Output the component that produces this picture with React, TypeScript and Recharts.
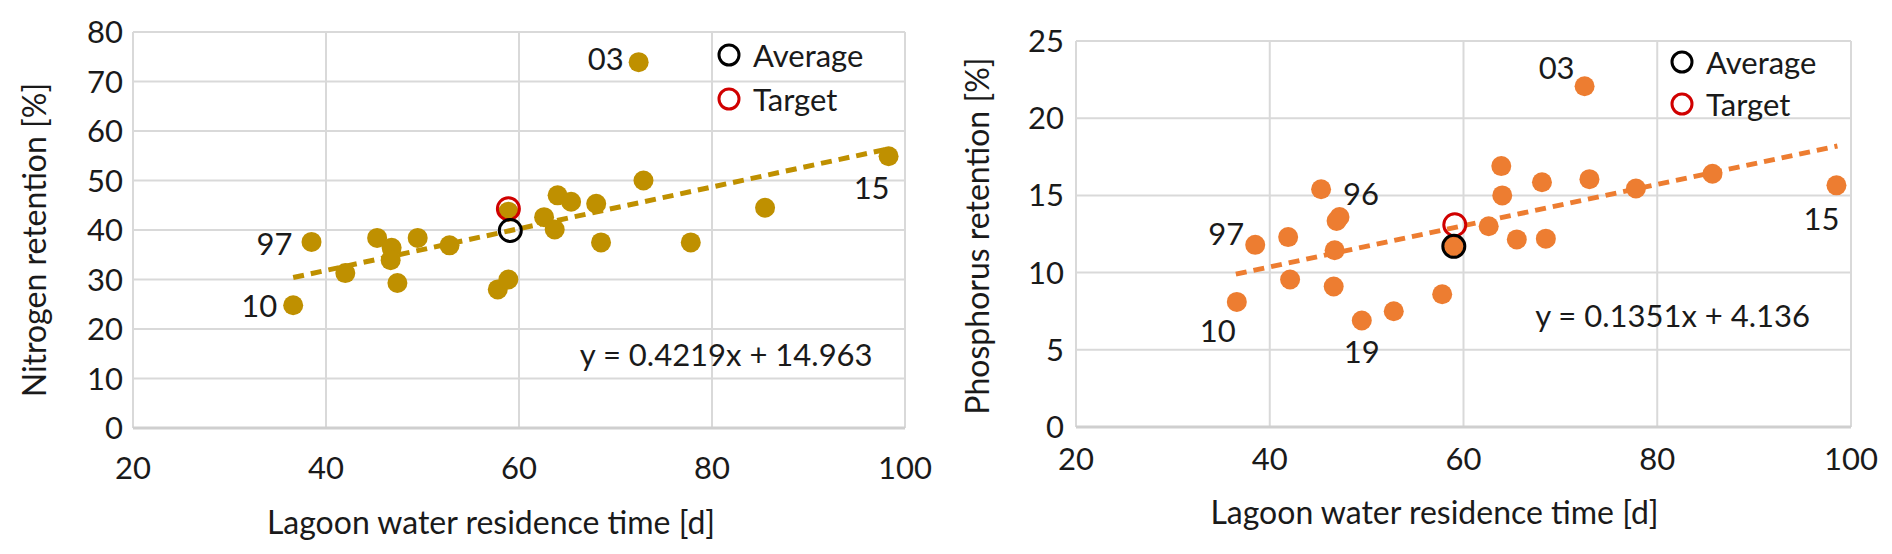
import React from "react";
import {
  ScatterChart,
  Scatter,
  XAxis,
  YAxis,
  CartesianGrid,
  ReferenceLine,
  ReferenceDot,
  Legend,
} from "recharts";

// shared x axis
const xTicks = [20, 40, 60, 80, 100];

// nitrogen panel
const nTicks = [0, 10, 20, 30, 40, 50, 60, 70, 80];
const nResidence = [72.4, 72.9, 64.0, 65.4, 68.0, 85.5, 98.3, 62.6, 63.7, 58.9, 38.5, 45.3, 46.8, 46.7, 49.5, 52.8, 42.0, 47.4, 57.8, 58.9, 36.6, 68.5, 77.8];
const nRetention = [73.9, 50.0, 47.0, 45.7, 45.3, 44.5, 54.9, 42.6, 40.1, 43.7, 37.6, 38.4, 36.4, 33.9, 38.4, 36.9, 31.3, 29.3, 28.0, 30.0, 24.8, 37.5, 37.5];
const nSites = ["03", "", "", "", "", "", "15", "", "", "", "97", "", "", "", "", "", "", "", "", "", "10", "", ""];
const nAverage = [59.1, 39.9];
const nTarget = [58.9, 44.3];
const nTrend = [[36.6, 30.4], [98.3, 56.4]];

// phosphorus panel
const pTicks = [0, 5, 10, 15, 20, 25];
const pResidence = [72.5, 63.9, 64.0, 68.1, 73.0, 77.8, 85.7, 98.5, 62.6, 65.5, 68.5, 45.3, 47.2, 46.9, 38.5, 41.9, 46.7, 42.1, 46.6, 36.6, 49.5, 52.8, 57.8, 59.0];
const pRetention = [22.07, 16.9, 15.0, 15.85, 16.05, 15.45, 16.4, 15.65, 13.0, 12.15, 12.2, 15.4, 13.6, 13.35, 11.8, 12.3, 11.45, 9.55, 9.1, 8.1, 6.9, 7.5, 8.6, 11.7];
const pSites = ["03", "", "", "", "", "", "", "15", "", "", "", "96", "", "", "97", "", "", "", "", "10", "19", "", "", ""];
const pAverage = [59.0, 11.7];
const pTarget = [59.1, 13.1];
const pTrend = [[36.5, 9.9], [98.6, 18.2]];

const legendItems = [
  { name: "Average", color: "#000000" },
  { name: "Target", color: "#D00000" },
];

const FONT = "Lato, 'Open Sans', sans-serif";
const TEXT = "#1a1a1a";
const textStyle = { fontFamily: FONT, fontSize: 31, fill: TEXT };

type Place = { anchor: "start" | "middle" | "end"; dx: number; dy: number };

const nPlaces: Record<string, Place> = {
  "03": { anchor: "end", dx: -15, dy: -4 },
  "97": { anchor: "end", dx: -19, dy: 1 },
  "10": { anchor: "end", dx: -16, dy: 0 },
  "15": { anchor: "end", dx: 1, dy: 31 },
};

const pPlaces: Record<string, Place> = {
  "03": { anchor: "end", dx: -10, dy: -19 },
  "96": { anchor: "start", dx: 22, dy: 4 },
  "97": { anchor: "end", dx: -11, dy: -12 },
  "10": { anchor: "end", dx: -1, dy: 28 },
  "19": { anchor: "middle", dx: 0, dy: 31 },
  "15": { anchor: "end", dx: 3, dy: 33 },
};

function Panel(props: any) {
  const { cfg, color } = props;
  const data = props.residence.map((x: number, i: number) => ({
    x,
    y: props.retention[i],
    site: props.sites[i],
  }));

  const dot = (p: any) => {
    const site = p.payload?.site;
    const place = site ? cfg.places[site] : null;
    return (
      <g>
        <circle cx={p.cx} cy={p.cy} r={10} fill={color} />
        {place && (
          <text
            x={p.cx + place.dx}
            y={p.cy + place.dy}
            textAnchor={place.anchor}
            dominantBaseline="central"
            style={textStyle}
          >
            {site}
          </text>
        )}
      </g>
    );
  };

  const ring = (stroke: string) => (p: any) => (
    <circle cx={p.cx} cy={p.cy} r={11} fill="none" stroke={stroke} strokeWidth={3} />
  );

  const xTitle = (p: any) => {
    const vb = p.viewBox;
    return (
      <text
        x={vb.x + vb.width / 2 + cfg.xTitleDx}
        y={vb.y + cfg.xTitleDy}
        textAnchor="middle"
        dominantBaseline="central"
        style={{ ...textStyle, fontSize: 32 }}
      >
        Lagoon water residence time [d]
      </text>
    );
  };

  const yTitle = (p: any) => {
    const vb = p.viewBox;
    const cx = cfg.yTitleX;
    const cy = vb.y + vb.height / 2 + cfg.yTitleDy;
    return (
      <text
        x={cx}
        y={cy}
        transform={`rotate(-90 ${cx} ${cy})`}
        textAnchor="middle"
        dominantBaseline="central"
        style={{ ...textStyle, fontSize: 32 }}
      >
        {props.yLabel}
      </text>
    );
  };

  const legend = () => (
    <div style={{ fontFamily: FONT, fontSize: 31, color: TEXT }}>
      {legendItems.map((it) => (
        <div
          key={it.name}
          style={{ display: "flex", alignItems: "center", height: cfg.legendRow }}
        >
          <svg width={24} height={24}>
            <circle cx={12} cy={12} r={10} fill="none" stroke={it.color} strokeWidth={3} />
          </svg>
          <span style={{ marginLeft: 12 }}>{it.name}</span>
        </div>
      ))}
    </div>
  );

  const tick = { fill: TEXT, fontSize: 31, fontFamily: FONT };

  return (
    <ScatterChart
      width={940}
      height={540}
      margin={{ top: cfg.top, right: cfg.right, left: 0, bottom: 0 }}
    >
      <CartesianGrid stroke="#D9D9D9" strokeWidth={2} />
      <XAxis
        type="number"
        dataKey="x"
        domain={[20, 100]}
        ticks={xTicks}
        interval={0}
        height={cfg.xAxisHeight}
        tickSize={0}
        tickMargin={cfg.xTickMargin}
        tickLine={false}
        axisLine={{ stroke: "#CFCFCF", strokeWidth: 3 }}
        tick={tick}
        label={{ content: xTitle }}
      />
      <YAxis
        type="number"
        dataKey="y"
        domain={[0, props.yTicks[props.yTicks.length - 1]]}
        ticks={props.yTicks}
        interval={0}
        width={cfg.yAxisWidth}
        tickSize={0}
        tickMargin={cfg.yTickMargin}
        tickLine={false}
        axisLine={false}
        tick={tick}
        label={{ content: yTitle }}
      />
      <Legend
        layout="vertical"
        align="center"
        verticalAlign="middle"
        content={legend}
        wrapperStyle={{ left: cfg.legendLeft, top: cfg.legendTop, width: 220 }}
      />
      <Scatter name="Lagoons" data={data} shape={dot} isAnimationActive={false} />
      <ReferenceLine
        segment={[
          { x: props.trend[0][0], y: props.trend[0][1] },
          { x: props.trend[1][0], y: props.trend[1][1] },
        ]}
        stroke={color}
        strokeWidth={5}
        strokeDasharray="11 7"
        ifOverflow="visible"
      />
      <Scatter
        name="Target"
        data={[{ x: props.target[0], y: props.target[1] }]}
        shape={ring("#D00000")}
        isAnimationActive={false}
      />
      <Scatter
        name="Average"
        data={[{ x: props.average[0], y: props.average[1] }]}
        shape={ring("#000000")}
        isAnimationActive={false}
      />
      <ReferenceDot
        x={cfg.eqAt[0]}
        y={cfg.eqAt[1]}
        r={0}
        fill="none"
        stroke="none"
        ifOverflow="visible"
        label={{ value: props.equation, position: "right", offset: 0, ...tick }}
      />
    </ScatterChart>
  );
}

const nCfg = {
  top: 24,
  right: 43,
  yAxisWidth: 125,
  yTickMargin: 10,
  xAxisHeight: 120,
  xTickMargin: 29,
  xTitleDx: -28,
  xTitleDy: 93,
  yTitleX: 25,
  yTitleDy: 10,
  legendLeft: 709,
  legendTop: 25,
  legendRow: 44,
  eqAt: [66.3, 14.7],
  places: nPlaces,
};

const pCfg = {
  top: 33,
  right: 35,
  yAxisWidth: 130,
  yTickMargin: 12,
  xAxisHeight: 121,
  xTickMargin: 21,
  xTitleDx: -29,
  xTitleDy: 84,
  yTitleX: 30,
  yTitleDy: 2,
  legendLeft: 724,
  legendTop: 33,
  legendRow: 42,
  eqAt: [67.4, 7.2],
  places: pPlaces,
};

export default function App() {
  return (
    <div style={{ position: "relative", width: 1876, height: 546, fontFamily: FONT }}>
      <div style={{ position: "absolute", left: 0, top: 0 }}>
        <Panel
          cfg={nCfg}
          color="#BF9000"
          residence={nResidence}
          retention={nRetention}
          sites={nSites}
          average={nAverage}
          target={nTarget}
          trend={nTrend}
          yTicks={nTicks}
          yLabel="Nitrogen retention [%]"
          equation="y = 0.4219x + 14.963"
        />
      </div>
      <div style={{ position: "absolute", left: 938, top: 0 }}>
        <Panel
          cfg={pCfg}
          color="#ED7D31"
          residence={pResidence}
          retention={pRetention}
          sites={pSites}
          average={pAverage}
          target={pTarget}
          trend={pTrend}
          yTicks={pTicks}
          yLabel="Phosphorus retention [%]"
          equation="y = 0.1351x + 4.136"
        />
      </div>
    </div>
  );
}
